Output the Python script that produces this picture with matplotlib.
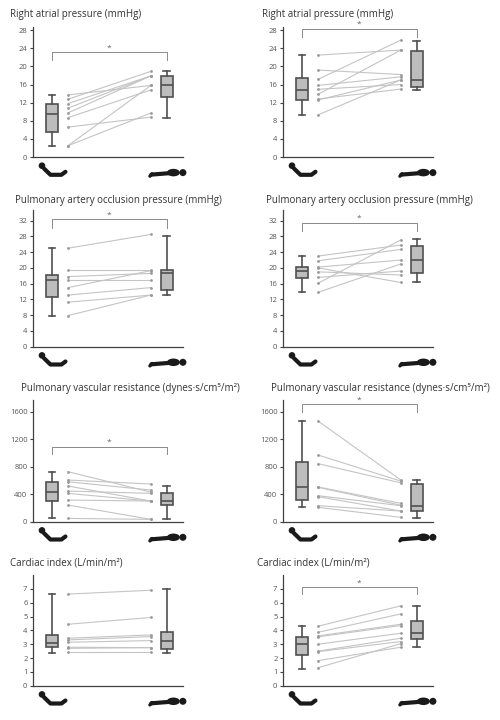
import matplotlib
matplotlib.use("Agg")
import matplotlib.pyplot as plt
from matplotlib.patches import Circle, Ellipse

plt.rcParams["font.family"] = ["Open Sans", "DejaVu Sans"]

# values, per panel: semi-recumbent vs supine
rap_a_semi = [13.7, 12.75, 11.8, 10.8, 9.75, 8.7, 6.6, 2.5, 2.5]
rap_a_supine = [15.8, 18.9, 17.9, 17.9, 17.9, 14.8, 8.8, 15.8, 9.7]
rap_a_box = [[2.5, 5.5, 9.6, 11.8, 13.7], [8.65, 13.3, 15.8, 17.9, 18.9]]

rap_b_semi = [22.5, 19.2, 17.15, 15.8, 14.95, 13.85, 12.8, 12.6, 9.3]
rap_b_supine = [23.6, 18.2, 25.8, 17.7, 16.0, 23.6, 15.0, 17.0, 17.0]
rap_b_box = [[9.3, 12.6, 14.8, 17.45, 22.5], [14.8, 15.5, 17.0, 23.5, 25.7]]

paop_a_semi = [25.0, 19.5, 17.8, 16.9, 15.0, 13.1, 11.3, 7.9]
paop_a_supine = [28.5, 19.5, 18.6, 16.9, 19.3, 15.0, 13.1, 13.1]
paop_a_box = [[7.8, 12.5, 16.9, 18.2, 25.0], [13.1, 14.4, 18.6, 19.5, 28.1]]

paop_b_semi = [23.0, 21.8, 20.2, 20.0, 19.0, 17.6, 16.1, 13.8]
paop_b_supine = [25.8, 24.7, 22.0, 16.3, 18.2, 19.2, 27.1, 21.0]
paop_b_box = [[13.8, 17.4, 19.3, 20.3, 23.0], [16.3, 18.6, 21.9, 25.6, 27.3]]

pvr_a_semi = [727, 606, 580, 519, 446, 412, 315, 242, 48]
pvr_a_supine = [430, 548, 460, 300, 412, 300, 300, 34, 34]
pvr_a_box = [[48, 305, 436, 572, 717], [34, 242, 300, 422, 524]]

pvr_b_semi = [1464, 970, 844, 505, 500, 378, 364, 233, 209]
pvr_b_supine = [606, 590, 565, 267, 240, 233, 155, 155, 63]
pvr_b_box = [[213, 315, 500, 873, 1464], [48, 155, 228, 543, 606]]

ci_a_semi = [6.62, 4.44, 3.43, 3.31, 3.14, 2.78, 2.7, 2.42]
ci_a_supine = [6.9, 4.93, 3.67, 3.55, 3.26, 2.75, 2.75, 2.42]
ci_a_box = [[2.39, 2.78, 3.07, 3.67, 6.62], [2.39, 2.68, 3.24, 3.91, 6.96]]

ci_b_semi = [4.3, 3.86, 3.6, 3.53, 3.0, 2.5, 2.46, 1.81, 1.3]
ci_b_supine = [5.77, 5.19, 4.44, 4.35, 3.79, 3.43, 3.19, 2.78, 3.04]
ci_b_box = [[1.21, 2.22, 3.0, 3.53, 4.28], [2.78, 3.36, 3.79, 4.64, 5.77]]

titles = [
    "Right atrial pressure (mmHg)",
    "Pulmonary artery occlusion pressure (mmHg)",
    "Pulmonary vascular resistance (dynes\u00b7s/cm\u2075/m\u00b2)",
    "Cardiac index (L/min/m\u00b2)",
]
row_ticks = [range(0, 29, 4), range(0, 33, 4), range(0, 1601, 400), range(0, 8)]
row_ylim = [28.7, 34.7, 1770, 8.0]
# significance bracket level per panel (None = not significant)
sig_a = [23.1, 32.3, 1090, None]
sig_b = [28.3, 31.5, 1706, 7.12]

panels = [
    [(rap_a_semi, rap_a_supine, rap_a_box), (rap_b_semi, rap_b_supine, rap_b_box)],
    [(paop_a_semi, paop_a_supine, paop_a_box), (paop_b_semi, paop_b_supine, paop_b_box)],
    [(pvr_a_semi, pvr_a_supine, pvr_a_box), (pvr_b_semi, pvr_b_supine, pvr_b_box)],
    [(ci_a_semi, ci_a_supine, ci_a_box), (ci_b_semi, ci_b_supine, ci_b_box)],
]

W, H = 500, 720
# axes geometry in pixels: (zero line y, top y)
row_px = [(157, 27), (346.7, 210), (521.7, 400), (685.7, 575)]
col_px = [33, 283]
title_px = [[(10, 15), (262, 15)], [(15, 200), (266, 200)],
            [(21, 388), (271, 388)], [(10, 563), (257, 563)]]

DARK = "#505050"
fig = plt.figure(figsize=(W / 100, H / 100), dpi=100)
overlay = fig.add_axes([0, 0, 1, 1], zorder=5)
overlay.set_xlim(0, W)
overlay.set_ylim(H, 0)
overlay.axis("off")


def draw_icons(ax):
    fig.canvas.draw_idle()
    x0, y0 = ax.transData.transform((0, 0))
    x1, _ = ax.transData.transform((1, 0))
    y0 = H - y0
    # semi-recumbent person
    overlay.add_patch(Circle((x0 - 10, y0 + 8.7), 3.3, color="#1a1a1a", lw=0))
    overlay.plot([x0 - 8, x0 - 1.5, x0 + 9.5, x0 + 13.5],
                 [y0 + 11.5, y0 + 17.8, y0 + 17.8, y0 + 14.8],
                 color="#1a1a1a", lw=3, solid_capstyle="round", solid_joinstyle="round")
    # supine person
    overlay.plot([x1 - 15.5, x1 + 2], [y0 + 17.6, y0 + 16.2], color="#1a1a1a", lw=3,
                 solid_capstyle="round")
    overlay.plot([x1 - 17, x1 - 14.8], [y0 + 19.2, y0 + 16.8], color="#1a1a1a", lw=2.4,
                 solid_capstyle="round")
    overlay.add_patch(Ellipse((x1 + 6.5, y0 + 15.6), 13, 7.5, color="#1a1a1a", lw=0))
    overlay.add_patch(Circle((x1 + 16, y0 + 15.6), 3.5, color="#1a1a1a", lw=0))


for r in range(4):
    zero_y, top_y = row_px[r]
    for c in range(2):
        semi, supine, box = panels[r][c]
        ax = fig.add_axes([col_px[c] / W, 1 - zero_y / H, 150 / W, (zero_y - top_y) / H])
        stats = [dict(whislo=b[0], q1=b[1], med=b[2], q3=b[3], whishi=b[4], fliers=[])
                 for b in box]
        ax.bxp(stats, positions=[0, 1], widths=0.1, capwidths=0.06, patch_artist=True,
               showfliers=False,
               boxprops=dict(facecolor="#bdbdbd", edgecolor=DARK, lw=1.2),
               medianprops=dict(color=DARK, lw=1.2),
               whiskerprops=dict(color=DARK, lw=1.2),
               capprops=dict(color=DARK, lw=1.2))
        for a, b in zip(semi, supine):
            ax.plot([0.14, 0.86], [a, b], color="#c4c4c4", lw=0.8, zorder=2)
        ax.plot([0.14] * len(semi), semi, "o", color="#9a9a9a", ms=2, mew=0, zorder=3)
        ax.plot([0.86] * len(supine), supine, "o", color="#9a9a9a", ms=2, mew=0, zorder=3)

        sig = (sig_a if c == 0 else sig_b)[r]
        if sig is not None:
            span = row_ylim[r]
            drop = span * 0.06
            ax.plot([0, 0, 1, 1], [sig - drop, sig, sig, sig - drop], color="#8a8a8a",
                    lw=0.7, clip_on=False)
            ax.text(0.5, sig + span * 0.005, "*", ha="center", va="bottom",
                    fontsize=6, color="#666666", clip_on=False)

        ax.set_xlim(-0.165, 1.14)
        ax.set_ylim(0, row_ylim[r])
        ax.set_yticks(list(row_ticks[r]))
        ax.set_xticks([])
        for s in ["top", "right"]:
            ax.spines[s].set_visible(False)
        for s in ["left", "bottom"]:
            ax.spines[s].set_color("#404040")
            ax.spines[s].set_linewidth(0.9)
        ax.tick_params(axis="y", length=2.5, width=0.8, color="#404040", pad=1.5,
                       labelsize=5.5, labelcolor="#555555")
        ax.patch.set_alpha(0)

        tx, ty = title_px[r][c]
        fig.text(tx / W, 1 - ty / H, titles[r], ha="left", va="center", fontsize=7,
                 color="#333333")
        draw_icons(ax)

fig.savefig("out.png", dpi=100)
